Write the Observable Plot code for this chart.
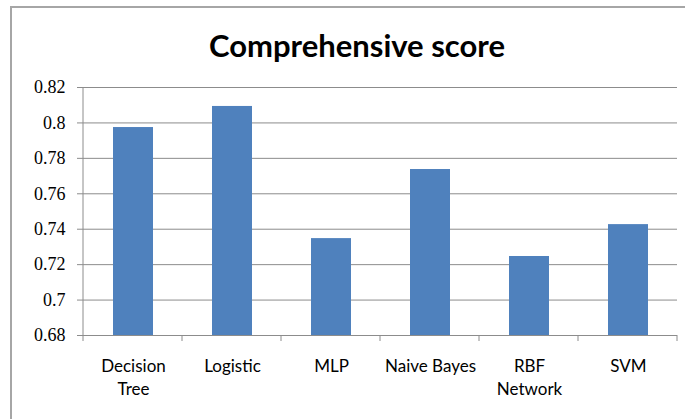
<!DOCTYPE html>
<html><head><meta charset="utf-8">
<script src="https://cdn.jsdelivr.net/npm/d3@7"></script>
<script src="https://cdn.jsdelivr.net/npm/@observablehq/plot@0.6"></script>
<style>
body{margin:0;background:#fff;}
#wrap{position:relative;width:685px;height:419px;overflow:hidden;background:#fff;}
#border{position:absolute;left:10px;top:6px;width:700px;height:440px;border:2px solid #a6a6a6;box-sizing:border-box;}
#title{position:absolute;left:0;top:29px;width:714px;text-align:center;font:bold 31px/32px Lato, sans-serif;color:#000;}
#chart{position:absolute;left:0;top:0;}
</style></head><body>
<div id="wrap"><div id="border"></div><div id="chart"></div><div id="title">Comprehensive score</div></div>
<script>
const models = ["Decision Tree", "Logistic", "MLP", "Naive Bayes", "RBF Network", "SVM"];
const scores = [0.7974, 0.8093, 0.7347, 0.7737, 0.7246, 0.7426];
const xLabels = ["Decision\nTree", "Logistic", "MLP", "Naive Bayes", "RBF\nNetwork", "SVM"];
const yTicks = [0.68, 0.70, 0.72, 0.74, 0.76, 0.78, 0.80, 0.82];
const yTickLabels = ["0.68", "0.7", "0.72", "0.74", "0.76", "0.78", "0.8", "0.82"];

const rows = models.map((m, i) => ({model: m, score: scores[i]}));
const gray = "#8c8c8c";

// category boundary ticks below the x axis and the vertical y-axis line
function axisLines(index, scales, values, dims) {
  const g = d3.create("svg:g");
  const x0 = dims.marginLeft, x1 = dims.width - dims.marginRight;
  const step = (x1 - x0) / models.length;
  const bounds = d3.range(models.length + 1).map(i => x0 + i * step);
  const yb = dims.height - dims.marginBottom;
  g.selectAll("line.t").data(bounds).join("line")
    .attr("x1", d => d).attr("x2", d => d).attr("y1", yb).attr("y2", yb + 6)
    .attr("stroke", gray);
  g.append("line").attr("x1", x0).attr("x2", x0)
    .attr("y1", dims.marginTop).attr("y2", yb).attr("stroke", gray);
  return g.node();
}

const chart = Plot.plot({
  width: 685,
  height: 419,
  marginTop: 87,
  marginBottom: 84,
  marginLeft: 83,
  marginRight: 8,
  style: {background: "transparent", color: "#000"},
  x: {domain: models, paddingInner: 0.6, paddingOuter: 0.3, label: null},
  y: {domain: [yTicks[0], yTicks[yTicks.length - 1]], label: null},
  marks: [
    Plot.ruleY(yTicks, {stroke: gray, strokeWidth: 1}),
    Plot.barY(rows, {x: "model", y1: yTicks[0], y2: "score", fill: "#4F81BD"}),
    Plot.axisY(yTicks, {
      tickSize: 6, tickPadding: 12, stroke: gray,
      tickFormat: d => yTickLabels[yTicks.indexOf(d)],
      fontSize: 18, fontFamily: "Liberation Serif", label: null
    }),
    Plot.axisX({
      tickSize: 0, tickPadding: 20,
      tickFormat: d => xLabels[models.indexOf(d)],
      lineHeight: 1.35, fontSize: 17, fontFamily: "Lato", label: null
    }),
    axisLines
  ]
});
document.getElementById("chart").appendChild(chart);
</script>
</body></html>
